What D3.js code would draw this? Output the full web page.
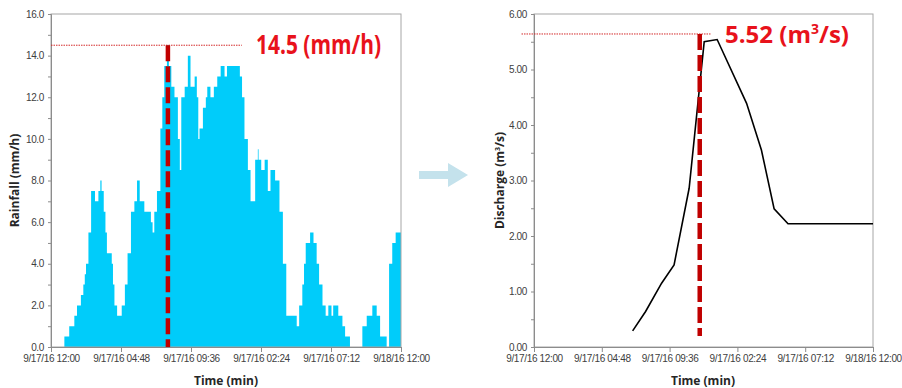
<!DOCTYPE html>
<html>
<head>
<meta charset="utf-8">
<script src="https://cdn.jsdelivr.net/npm/d3@7"></script>
<style>
  body { margin: 0; background: #fff; }
  svg { display: block; }
  .tick text { font-family: "Liberation Sans", Arial, sans-serif; font-size: 10px; letter-spacing: -0.35px; fill: #404040; }
  .title { font-family: "Open Sans", "Liberation Sans", sans-serif; font-weight: bold; font-size: 12px; fill: #262626; }
  .peak { font-family: "Open Sans", "Liberation Sans", sans-serif; font-weight: bold; fill: #e8121b; }
</style>
</head>
<body>
<div id="chart"></div>
<script>
// time axis, minutes from start of event
const timeTicks = [0, 288, 576, 864, 1152, 1440];
const timeLabels = ["9/17/16 12:00", "9/17/16 04:48", "9/17/16 09:36", "9/17/16 02:24", "9/17/16 07:12", "9/18/16 12:00"];

// rainfall hyetograph: step start (min) and intensity (mm/h)
const rainStart = [0, 55, 75, 96, 107, 123, 133, 139, 144, 154, 165, 181, 195, 203, 208, 217, 224, 230, 250, 255, 261, 272, 291, 304, 315, 329, 343, 354, 365, 384, 411, 418, 425, 436, 450, 458, 466, 477, 485, 495, 508, 522, 530, 536, 550, 563, 574, 591, 600, 606, 611, 625, 637, 643, 656, 670, 684, 698, 714, 724, 777, 786, 796, 810, 821, 840, 851, 854, 865, 879, 892, 903, 922, 940, 954, 968, 1011, 1021, 1034, 1041, 1048, 1066, 1080, 1093, 1103, 1117, 1130, 1141, 1154, 1161, 1182, 1199, 1210, 1230, 1281, 1299, 1322, 1340, 1354, 1381, 1391, 1404, 1418];
const rainfall = [0, 0.5, 1.0, 1.5, 2.0, 2.5, 3.0, 3.5, 4.0, 5.5, 7.5, 7.0, 7.5, 8.0, 7.5, 6.5, 5.5, 4.5, 4.0, 3.0, 2.0, 1.5, 2.0, 3.0, 4.5, 6.5, 7.0, 8.0, 7.0, 6.5, 6.0, 5.5, 6.5, 7.5, 10.5, 12.0, 13.5, 14.5, 13.5, 12.5, 12.0, 10.0, 8.5, 12.0, 12.5, 14.0, 12.5, 13.0, 12.0, 10.0, 10.5, 11.5, 12.0, 12.5, 12.0, 12.5, 13.0, 13.5, 13.0, 13.5, 13.0, 12.0, 10.0, 8.5, 7.0, 9.0, 9.5, 9.0, 8.5, 9.0, 7.5, 8.5, 8.0, 6.5, 4.0, 1.5, 1.0, 2.0, 3.0, 4.0, 5.0, 5.5, 5.0, 4.0, 3.0, 2.0, 1.5, 2.0, 1.5, 2.0, 1.5, 1.0, 0.5, 0, 1.0, 1.5, 2.0, 1.5, 0.5, 0, 4.0, 5.0, 5.5];
const rainEnd = 1440;

// simulated discharge hydrograph
const flowTime = [419, 474, 542, 595, 659, 723, 778, 903, 966, 1020, 1079, 1440];
const discharge = [0.29, 0.64, 1.15, 1.48, 2.86, 5.50, 5.54, 4.39, 3.55, 2.49, 2.22, 2.22];

const rainPeak = { time: 481, value: 14.5, lineEnd: 785, label: "14.5 (mm/h)" };
const flowPeak = { time: 704, value: 5.64, low: 0.2, lineStart: -53, lineEnd: 754 };

const svg = d3.select("#chart").append("svg")
  .attr("width", 902)
  .attr("height", 388);

function drawFrame(x, y, yTicks, yMinor, yFmt) {
  const g = svg.append("g");
  const [x0, x1] = x.range();
  const [y0, y1] = y.range();
  g.append("rect")
    .attr("x", x0).attr("y", y1)
    .attr("width", x1 - x0).attr("height", y0 - y1)
    .attr("fill", "none").attr("stroke", "#a6a6a6");

  g.append("g")
    .attr("transform", "translate(0," + y0 + ")")
    .call(d3.axisBottom(x).tickValues(timeTicks)
      .tickFormat((d, i) => timeLabels[i]).tickSize(5).tickPadding(3));
  g.append("g")
    .attr("transform", "translate(" + x0 + ",0)")
    .call(d3.axisLeft(y).tickValues(yTicks).tickFormat(yFmt).tickSize(3).tickPadding(4));
  g.append("g")
    .attr("transform", "translate(" + x0 + ",0)")
    .call(d3.axisLeft(y).tickValues(yMinor).tickFormat("").tickSize(3))
    .select(".domain").remove();
  g.selectAll(".domain").attr("stroke", "#8c8c8c");
  g.selectAll(".tick line").attr("stroke", "#8c8c8c");
  return g;
}

// ---- left: rainfall
const xL = d3.scaleLinear().domain([0, 1440]).range([51, 401]);
const yL = d3.scaleLinear().domain([0, 16]).range([347, 14]);

const rainSteps = rainfall.map((v, i) => [rainStart[i], v]);
rainSteps.push([rainEnd, rainfall[rainfall.length - 1]]);

svg.append("path")
  .datum(rainSteps)
  .attr("d", d3.area().curve(d3.curveStepAfter)
    .x(d => xL(d[0])).y0(yL(0)).y1(d => yL(d[1])))
  .attr("fill", "#00ccfa");

drawFrame(xL, yL, d3.range(0, 17, 2), d3.range(1, 16, 2), d3.format(".1f"));

svg.append("line")
  .attr("x1", xL(0)).attr("x2", xL(rainPeak.lineEnd))
  .attr("y1", yL(rainPeak.value)).attr("y2", yL(rainPeak.value))
  .attr("stroke", "#d42a2a").attr("stroke-width", 1).attr("stroke-dasharray", "1.5,1");
svg.append("line")
  .attr("x1", xL(rainPeak.time)).attr("x2", xL(rainPeak.time))
  .attr("y1", yL(rainPeak.value)).attr("y2", yL(0))
  .attr("stroke", "#c00000").attr("stroke-width", 4.5).attr("stroke-dasharray", "16,5");
svg.append("text").attr("class", "peak")
  .attr("x", 256).attr("y", 54)
  .attr("font-size", 26)
  .attr("textLength", 125).attr("lengthAdjust", "spacingAndGlyphs")
  .text(rainPeak.label);

svg.append("text").attr("class", "title")
  .attr("transform", "translate(19," + yL(8) + ") rotate(-90)")
  .attr("text-anchor", "middle")
  .text("Rainfall (mm/h)");
svg.append("text").attr("class", "title")
  .attr("x", 226).attr("y", 385).attr("text-anchor", "middle")
  .text("Time (min)");

// ---- arrow between panels
svg.append("path")
  .attr("d", "M419,171 L448,171 L448,163 L468,175 L448,187 L448,179 L419,179 Z")
  .attr("fill", "#c4e2ec");

// ---- right: discharge
const xR = d3.scaleLinear().domain([0, 1440]).range([534, 873]);
const yR = d3.scaleLinear().domain([0, 6]).range([347, 14]);

drawFrame(xR, yR, d3.range(0, 6.01, 1), d3.range(0.5, 6, 1), d3.format(".2f"));

svg.append("path")
  .datum(discharge.map((v, i) => [flowTime[i], v]))
  .attr("d", d3.line().x(d => xR(d[0])).y(d => yR(d[1])))
  .attr("fill", "none").attr("stroke", "#000").attr("stroke-width", 1.6);

svg.append("line")
  .attr("x1", xR(flowPeak.lineStart)).attr("x2", xR(flowPeak.lineEnd))
  .attr("y1", yR(flowPeak.value)).attr("y2", yR(flowPeak.value))
  .attr("stroke", "#d42a2a").attr("stroke-width", 1).attr("stroke-dasharray", "1.5,1");
svg.append("line")
  .attr("x1", xR(flowPeak.time)).attr("x2", xR(flowPeak.time))
  .attr("y1", yR(flowPeak.value)).attr("y2", yR(flowPeak.low))
  .attr("stroke", "#c00000").attr("stroke-width", 4.5).attr("stroke-dasharray", "16,5");

const pk = svg.append("text").attr("class", "peak")
  .attr("x", 725).attr("y", 43).attr("font-size", 24);
pk.append("tspan").text("5.52 (m");
pk.append("tspan").attr("font-size", 14).attr("dy", -9).text("3");
pk.append("tspan").attr("dy", 9).text("/s)");

const dt = svg.append("text").attr("class", "title")
  .attr("transform", "translate(504," + yR(3) + ") rotate(-90)")
  .attr("text-anchor", "middle");
dt.append("tspan").text("Discharge (m");
dt.append("tspan").attr("font-size", 7).attr("dy", -4).text("3");
dt.append("tspan").attr("dy", 4).text("/s)");

svg.append("text").attr("class", "title")
  .attr("x", 703).attr("y", 385).attr("text-anchor", "middle")
  .text("Time (min)");
</script>
</body>
</html>
